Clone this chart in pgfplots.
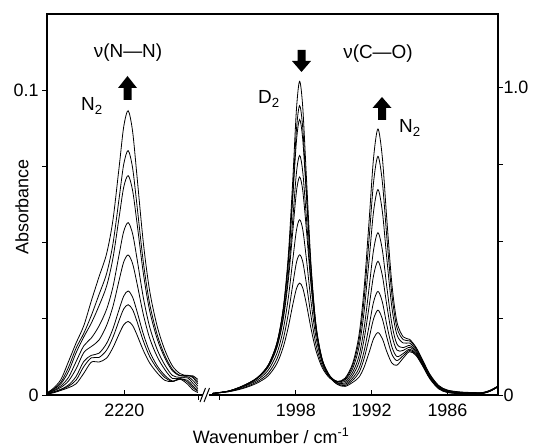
\documentclass[border=0pt]{standalone}
\usepackage{fontspec}
\setmainfont{Liberation Sans}
\usepackage{pgfplots}
\usepackage{pgfplotstable}
\pgfplotsset{compat=1.18}

% nu(N-N) band, eight spectra (c1 = first ... c8 = last)
\pgfplotstableread{
x c1 c2 c3 c4 c5 c6 c7 c8
2226.1 .0003 .0003 .0003 .0004 .0005 .0006 .0007 .0007
2225.6 .0007 .0009 .0010 .0013 .0015 .0018 .0019 .0022
2225.0 .0015 .0017 .0019 .0025 .0030 .0037 .0042 .0051
2224.4 .0024 .0029 .0033 .0046 .0058 .0077 .0091 .0110
2223.8 .0037 .0049 .0061 .0086 .0110 .0139 .0154 .0171
2223.2 .0071 .0093 .0110 .0139 .0161 .0190 .0202 .0227
2222.6 .0108 .0122 .0130 .0159 .0187 .0236 .0261 .0309
2222.0 .0108 .0123 .0137 .0180 .0226 .0292 .0329 .0387
2221.4 .0121 .0147 .0169 .0228 .0281 .0357 .0398 .0463
2220.9 .0155 .0189 .0217 .0290 .0354 .0448 .0495 .0573
2220.4 .0201 .0246 .0282 .0378 .0463 .0586 .0648 .0751
2220.05 .0230 .0282 .0324 .0436 .0536 .0681 .0756 .0879
2219.7 .0241 .0296 .0341 .0459 .0565 .0719 .0801 .0932
2219.35 .0228 .0280 .0321 .0431 .0529 .0671 .0745 .0865
2219.0 .0197 .0241 .0274 .0366 .0447 .0564 .0621 .0717
2218.5 .0146 .0177 .0200 .0264 .0319 .0399 .0435 .0499
2218.0 .0105 .0126 .0142 .0186 .0223 .0276 .0299 .0341
2217.4 .0072 .0086 .0095 .0125 .0148 .0183 .0197 .0224
2216.8 .0048 .0057 .0064 .0083 .0098 .0121 .0129 .0147
2216.2 .0044 .0045 .0046 .0054 .0064 .0079 .0084 .0095
2215.6 .0052 .0054 .0052 .0056 .0058 .0063 .0064 .0070
2215.0 .0035 .0042 .0048 .0056 .0060 .0065 .0063 .0063
2214.6 .0017 .0024 .0030 .0039 .0048 .0057 .0060 .0063
2214.2 .0008 .0012 .0015 .0021 .0029 .0037 .0044 .0051
}\leftdata

% nu(C-O) bands, same eight spectra
\pgfplotstableread{
x c1 c2 c3 c4 c5 c6 c7 c8
2004.6 .005 .005 .005 .005 .005 .005 .005 .005
2003.3 .013 .013 .013 .013 .013 .012 .011 .011
2002.2 .029 .029 .030 .028 .028 .026 .023 .021
2001.1 .054 .054 .055 .053 .052 .047 .042 .038
2000.2 .096 .095 .096 .091 .090 .080 .070 .062
1999.5 .169 .166 .168 .158 .154 .135 .117 .102
1999.0 .281 .274 .274 .254 .245 .212 .181 .155
1998.6 .451 .433 .429 .391 .371 .314 .263 .220
1998.25 .693 .654 .636 .567 .528 .436 .357 .292
1997.95 .929 .863 .826 .723 .662 .536 .431 .346
1997.7 1.020 .941 .896 .779 .709 .570 .456 .364
1997.45 .935 .867 .830 .725 .664 .538 .433 .348
1997.15 .699 .655 .639 .569 .531 .438 .358 .293
1996.8 .427 .408 .409 .373 .359 .305 .257 .217
1996.4 .224 .220 .226 .212 .212 .187 .163 .144
1995.9 .111 .110 .115 .110 .113 .104 .095 .088
1995.3 .058 .058 .061 .060 .062 .060 .057 .054
1994.7 .034 .036 .039 .040 .043 .044 .044 .044
1994.1 .028 .031 .035 .039 .044 .049 .052 .055
1993.5 .041 .048 .055 .064 .074 .086 .096 .103
1993.0 .058 .073 .087 .107 .127 .156 .177 .195
1992.6 .090 .118 .142 .180 .216 .270 .311 .345
1992.2 .138 .185 .225 .288 .349 .440 .509 .567
1991.85 .183 .247 .302 .388 .471 .596 .691 .770
1991.5 .203 .276 .337 .435 .528 .668 .776 .865
1991.15 .183 .247 .302 .388 .471 .596 .692 .771
1990.8 .141 .188 .228 .292 .352 .444 .514 .572
1990.4 .104 .133 .157 .195 .231 .286 .328 .362
1990.0 .097 .112 .125 .146 .166 .196 .219 .238
1989.5 .120 .128 .135 .145 .154 .169 .180 .189
1989.0 .141 .145 .149 .155 .161 .169 .176 .181
1988.5 .129 .132 .135 .139 .143 .148 .153 .156
1988.0 .097 .099 .101 .104 .107 .111 .114 .117
1987.4 .053 .055 .056 .058 .061 .064 .066 .068
1986.7 .020 .022 .023 .024 .026 .028 .030 .031
1986.0 .008 .009 .010 .011 .012 .014 .015 .016
1985.0 .004 .005 .006 .006 .007 .008 .009 .010
1984.0 .003 .004 .004 .005 .006 .007 .007 .008
1983.2 .005 .005 .006 .006 .007 .007 .008 .008
1982.6 .013 .013 .013 .014 .014 .015 .015 .016
1982.0 .026 .027 .027 .027 .028 .028 .029 .029
}\rightdata

\tikzset{curve/.style={black, line width=0.8bp, smooth, tension=0.5}}
\pgfplotsset{
  spec/.style={
    scale only axis, height=381bp, ymin=0, x dir=reverse,
    axis line style={draw=none},
    tick align=outside, major tick length=5bp,
    major x tick style={yshift=5bp},
    tick style={black, line width=0.9bp},
    ticklabel style={font=\fontsize{18}{18}\selectfont},
    xtick pos=left,
  }
}

\begin{document}
\begin{tikzpicture}
\path[use as bounding box] (0,0) rectangle (533bp,448bp);

\begin{axis}[spec, at={(47bp,53bp)}, anchor=south west, width=161bp,
  xmin=2213.4, xmax=2226.1, ymax=0.1249,
  xtick={2220}, xticklabels={2220},
  ytick={0,0.025,0.05,0.075,0.1}, yticklabels={0,,,,0.1}, ytick pos=left]
\addplot[curve] table[x=x,y=c1] {\leftdata};
\addplot[curve] table[x=x,y=c2] {\leftdata};
\addplot[curve] table[x=x,y=c3] {\leftdata};
\addplot[curve] table[x=x,y=c4] {\leftdata};
\addplot[curve] table[x=x,y=c5] {\leftdata};
\addplot[curve] table[x=x,y=c6] {\leftdata};
\addplot[curve] table[x=x,y=c7] {\leftdata};
\addplot[curve] table[x=x,y=c8] {\leftdata};
\end{axis}

\begin{axis}[spec, at={(208bp,53bp)}, anchor=south west, width=290bp,
  xmin=1982, xmax=2004.95, ymax=1.239,
  xtick={1998,1992,1986}, xticklabels={1998,1992,1986},
  ytick={0,0.25,0.5,0.75,1.0}, yticklabels={0,,,,1.0},
  ytick pos=right, yticklabel pos=right, yticklabel style={xshift=-3bp}]
\addplot[curve] table[x=x,y=c1] {\rightdata};
\addplot[curve] table[x=x,y=c2] {\rightdata};
\addplot[curve] table[x=x,y=c3] {\rightdata};
\addplot[curve] table[x=x,y=c4] {\rightdata};
\addplot[curve] table[x=x,y=c5] {\rightdata};
\addplot[curve] table[x=x,y=c6] {\rightdata};
\addplot[curve] table[x=x,y=c7] {\rightdata};
\addplot[curve] table[x=x,y=c8] {\rightdata};
\end{axis}

% frame with axis break
\draw[line width=1.1bp] (47bp,53bp) -- (47bp,434bp) -- (498bp,434bp) -- (498bp,53bp);
\draw[line width=1.1bp] (47bp,53bp) -- (203bp,53bp);
\draw[line width=1.1bp] (208.5bp,53bp) -- (498bp,53bp);
\draw[line width=1bp] (200bp,46bp) -- (205.5bp,60bp);
\draw[line width=1bp] (204bp,46bp) -- (209.5bp,60bp);
\draw[line width=0.9bp] (198bp,53bp) -- (198bp,48bp);
\draw[line width=0.9bp] (219bp,53bp) -- (219bp,48bp);

% arrows
\fill[black] (118bp,360bp) -- (127.5bp,372bp) -- (137bp,360bp) -- (131.5bp,360bp) -- (131.5bp,348bp) -- (123.5bp,348bp) -- (123.5bp,360bp) -- cycle;
\fill[black] (292bp,387bp) -- (301.5bp,376bp) -- (311bp,387bp) -- (305.5bp,387bp) -- (305.5bp,398bp) -- (297.5bp,398bp) -- (297.5bp,387bp) -- cycle;
\fill[black] (372.5bp,340bp) -- (382bp,351bp) -- (391.5bp,340bp) -- (386bp,340bp) -- (386bp,328bp) -- (378bp,328bp) -- (378bp,340bp) -- cycle;

% annotations
\begin{scope}[every node/.style={font=\fontsize{19}{19}\selectfont, inner sep=0pt}]
\node at (128bp,395bp) {ν(N—N)};
\node at (92bp,342bp) {N\textsubscript{2}};
\node at (269bp,349bp) {D\textsubscript{2}};
\node at (378bp,394bp) {ν(C—O)};
\node at (410bp,320bp) {N\textsubscript{2}};
\end{scope}
\begin{scope}[every node/.style={font=\fontsize{18}{18}\selectfont, inner sep=0pt}]
\node[rotate=90] at (22bp,241bp) {Absorbance};
\node[anchor=base] at (271bp,5bp) {Wavenumber / cm\textsuperscript{-1}};
\end{scope}
\end{tikzpicture}
\end{document}
